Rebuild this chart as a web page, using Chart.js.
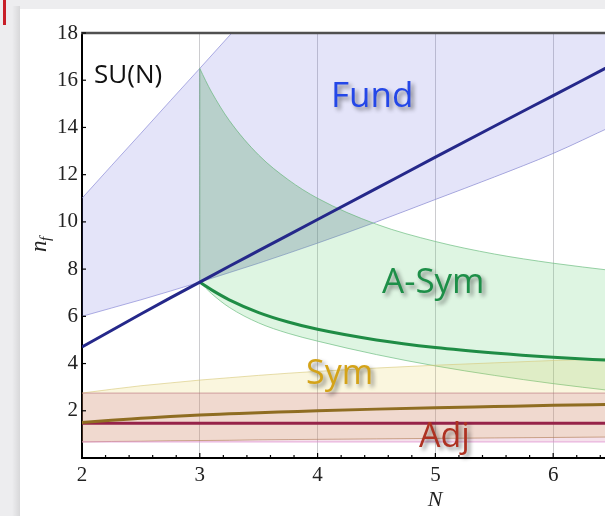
<!DOCTYPE html>
<html>
<head>
<meta charset="utf-8">
<script src="https://cdn.jsdelivr.net/npm/chart.js@4/dist/chart.umd.min.js"></script>
<style>
  html, body { margin: 0; padding: 0; background: #ececee; }
  #wrap { width: 605px; height: 516px; }
</style>
</head>
<body>
<div id="wrap"><canvas id="c" width="605" height="516"></canvas></div>
<script>
// SU(N) conformal windows: number of flavours n_f against number of colours N

// shared N grid for Fund, Sym and the band edges
const nGrid = [2, 2.25, 2.5, 2.75, 3, 3.25, 3.5, 3.75, 4, 4.5, 5, 5.5, 6, 6.5];

// fundamental representation
const fundUpper = [11, 12.38, 13.75, 15.13, 16.5, 17.88, 19.25, 20.63, 22, 24.75, 27.5, 30.25, 33, 35.75];
const fundLine  = [4.7, 5.4, 6.1, 6.78, 7.45, 8.12, 8.78, 9.44, 10.1, 11.42, 12.74, 14.05, 15.35, 16.65];
const fundLower = [6.0, 6.35, 6.7, 7.07, 7.45, 7.85, 8.25, 8.67, 9.1, 10.0, 10.95, 11.9, 12.9, 14.05];

// two-index antisymmetric (starts at N = 3)
const asymN     = [3, 3.05, 3.1, 3.25, 3.5, 3.75, 4, 4.5, 5, 5.5, 6, 6.5];
const asymUpper = [16.5, 15.98, 15.5, 14.3, 12.83, 11.79, 11.0, 9.9, 9.17, 8.64, 8.25, 7.94];
const asymLine  = [7.45, 7.28, 7.12, 6.7, 6.16, 5.76, 5.45, 5.0, 4.68, 4.45, 4.27, 4.13];
const asymLower = [7.45, 7.2, 6.96, 6.38, 5.72, 5.28, 4.95, 4.38, 3.9, 3.5, 3.15, 2.85];

// two-index symmetric
const symUpper = [2.75, 2.91, 3.06, 3.18, 3.3, 3.4, 3.5, 3.59, 3.67, 3.81, 3.93, 4.03, 4.13, 4.21];
const symLine  = [1.5, 1.6, 1.68, 1.76, 1.82, 1.87, 1.92, 1.96, 2.0, 2.07, 2.13, 2.18, 2.23, 2.27];
const symLower = [0.68, 0.7, 0.71, 0.73, 0.74, 0.75, 0.77, 0.78, 0.79, 0.81, 0.83, 0.85, 0.87, 0.89];

// adjoint
const adjN     = [2, 6.5];
const adjUpper = [2.75, 2.75];
const adjLine  = [1.47, 1.47];
const adjLower = [0.68, 0.68];

// axes
const xTicks = [2, 3, 4, 5, 6];
const yTicks = [2, 4, 6, 8, 10, 12, 14, 16, 18];

const pts = (xs, ys) => xs.map((x, i) => ({ x: x, y: ys[i] }));

const edge = (data, color, order, fill, bg) => ({
  data: data, borderColor: color, borderWidth: 1, pointRadius: 0,
  fill: fill === undefined ? false : fill, backgroundColor: bg || 'transparent',
  cubicInterpolationMode: 'monotone', order: order
});
const curve = (data, color, order) => ({
  data: data, borderColor: color, borderWidth: 3, pointRadius: 0, fill: false,
  cubicInterpolationMode: 'monotone', order: order
});

const datasets = [
  /*0*/ edge(pts(nGrid, fundLower), 'rgba(140,140,215,0.7)', 20),
  /*1*/ edge(pts(nGrid, fundUpper), 'rgba(140,140,215,0.7)', 20, { target: 0 }, 'rgba(90,90,220,0.165)'),
  /*2*/ edge(pts(asymN, asymLower), 'rgba(110,190,130,0.7)', 18),
  /*3*/ edge(pts(asymN, asymUpper), 'rgba(110,190,130,0.7)', 18, { target: 2 }, 'rgba(90,205,110,0.2)'),
  /*4*/ { data: pts(asymN, asymUpper), borderWidth: 0, pointRadius: 0, order: 17,
          cubicInterpolationMode: 'monotone',
          fill: { target: 0, above: 'rgba(75,105,85,0.13)', below: 'rgba(0,0,0,0)' } },
  /*5*/ edge(pts([asymN[0], asymN[0]], [asymLower[0], asymUpper[0]]), 'rgba(110,170,130,0.8)', 16),
  /*6*/ edge(pts(nGrid, symLower), 'rgba(170,130,70,0.6)', 14),
  /*7*/ edge(pts(nGrid, symUpper), 'rgba(215,200,120,0.6)', 14, { target: 6 }, 'rgba(225,205,70,0.18)'),
  /*8*/ edge(pts(adjN, adjLower), 'rgba(225,150,210,0.8)', 12),
  /*9*/ edge(pts(adjN, adjUpper), 'rgba(180,110,120,0.6)', 12, { target: 8 }, 'rgba(190,70,130,0.16)'),
  /*10*/ curve(pts(nGrid, fundLine), '#25288a', 2),
  /*11*/ curve(pts(asymN, asymLine), '#1f8c45', 2),
  /*12*/ curve(pts(nGrid, symLine), '#8f6d22', 2),
  /*13*/ curve(pts(adjN, adjLine), '#962349', 2)
];

// slide backdrop behind the chart panel
const backdrop = {
  id: 'backdrop',
  beforeDraw(chart) {
    const ctx = chart.ctx;
    ctx.save();
    ctx.fillStyle = '#ededef';
    ctx.fillRect(0, 0, chart.width, chart.height);
    const g = ctx.createLinearGradient(12, 0, 20, 0);
    g.addColorStop(0, 'rgba(0,0,0,0)');
    g.addColorStop(1, 'rgba(0,0,0,0.09)');
    ctx.fillStyle = g;
    ctx.fillRect(12, 6, 8, chart.height);
    ctx.fillStyle = '#ffffff';
    ctx.fillRect(20, 9, chart.width - 20, chart.height - 9);
    ctx.fillStyle = '#c81e28';
    ctx.fillRect(3, 0, 3, 25);
    ctx.restore();
  }
};

// ticks, frame, axis titles and region labels
const decor = {
  id: 'decor',
  afterDraw(chart) {
    const ctx = chart.ctx, a = chart.chartArea;
    const xs = chart.scales.x, ys = chart.scales.y;
    ctx.save();
    // top frame
    ctx.strokeStyle = '#505050';
    ctx.lineWidth = 2.5;
    ctx.beginPath(); ctx.moveTo(a.left - 1, a.top); ctx.lineTo(a.right, a.top); ctx.stroke();
    // x ticks: majors at integers, minors every 0.2
    ctx.strokeStyle = '#000'; ctx.lineWidth = 1.2;
    for (let k = 0; k <= 25; k++) {
      const v = xTicks[0] + k * 0.2;
      const px = xs.getPixelForValue(v);
      if (px > a.right) break;
      const major = k % 5 === 0;
      ctx.beginPath(); ctx.moveTo(px, a.bottom); ctx.lineTo(px, a.bottom - (major ? 5 : 3)); ctx.stroke();
    }
    yTicks.forEach(v => {
      const py = ys.getPixelForValue(v);
      ctx.beginPath(); ctx.moveTo(a.left, py); ctx.lineTo(a.left + 4, py); ctx.stroke();
    });
    // axis titles
    ctx.fillStyle = '#222';
    ctx.font = 'italic 22px "Liberation Serif", serif';
    ctx.textAlign = 'center'; ctx.textBaseline = 'middle';
    ctx.fillText('N', 435, 500);
    ctx.save();
    ctx.translate(40, 246);
    ctx.rotate(-Math.PI / 2);
    ctx.textAlign = 'left'; ctx.textBaseline = 'alphabetic';
    ctx.font = 'italic 23px "Liberation Serif", serif';
    ctx.fillText('n', -6, 6);
    ctx.font = 'italic 15px "Liberation Serif", serif';
    ctx.fillText('f', 5, 10);
    ctx.restore();
    // region labels
    ctx.textAlign = 'left'; ctx.textBaseline = 'alphabetic';
    ctx.font = '26px "Open Sans", sans-serif';
    ctx.fillStyle = '#111';
    ctx.fillText('SU(N)', 94, 83);
    const label = (t, x, y, size, color) => {
      ctx.save();
      ctx.font = size + 'px "Open Sans", sans-serif';
      ctx.shadowColor = 'rgba(0,0,0,0.45)';
      ctx.shadowBlur = 4; ctx.shadowOffsetX = 3; ctx.shadowOffsetY = 3;
      ctx.fillStyle = color;
      ctx.fillText(t, x, y);
      ctx.restore();
    };
    label('Fund', 331, 107, 35, '#2447e8');
    label('A-Sym', 382, 293, 35, '#1d8f48');
    label('Sym', 306, 384, 34, '#d4a318');
    label('Adj', 419, 447, 34, '#ae3222');
    ctx.restore();
  }
};

new Chart(document.getElementById('c'), {
  type: 'line',
  data: { datasets: datasets },
  plugins: [backdrop, decor],
  options: {
    responsive: false, animation: false, devicePixelRatio: 1,
    layout: { padding: { top: 33, right: 0, left: 0, bottom: 0 } },
    plugins: { legend: { display: false }, tooltip: { enabled: false }, filler: { propagate: false } },
    elements: { line: { tension: 0 } },
    scales: {
      x: {
        type: 'linear', min: 2, max: 6.44,
        afterBuildTicks: s => { s.ticks = xTicks.map(v => ({ value: v })); },
        afterFit: s => { s.height = 58; },
        grid: { display: true, color: 'rgba(170,170,175,0.6)', lineWidth: 1, drawTicks: false },
        border: { display: true, color: '#000', width: 2 },
        ticks: { padding: 5, color: '#222', font: { family: '"Liberation Serif", serif', size: 21 }, maxRotation: 0 }
      },
      y: {
        type: 'linear', min: 0, max: 18,
        afterBuildTicks: s => { s.ticks = yTicks.map(v => ({ value: v })); },
        afterFit: s => { s.width = 82; },
        grid: { display: false, drawTicks: false },
        border: { display: true, color: '#000', width: 2 },
        ticks: { padding: 4, color: '#222', font: { family: '"Liberation Serif", serif', size: 21 } }
      }
    }
  }
});
</script>
</body>
</html>
